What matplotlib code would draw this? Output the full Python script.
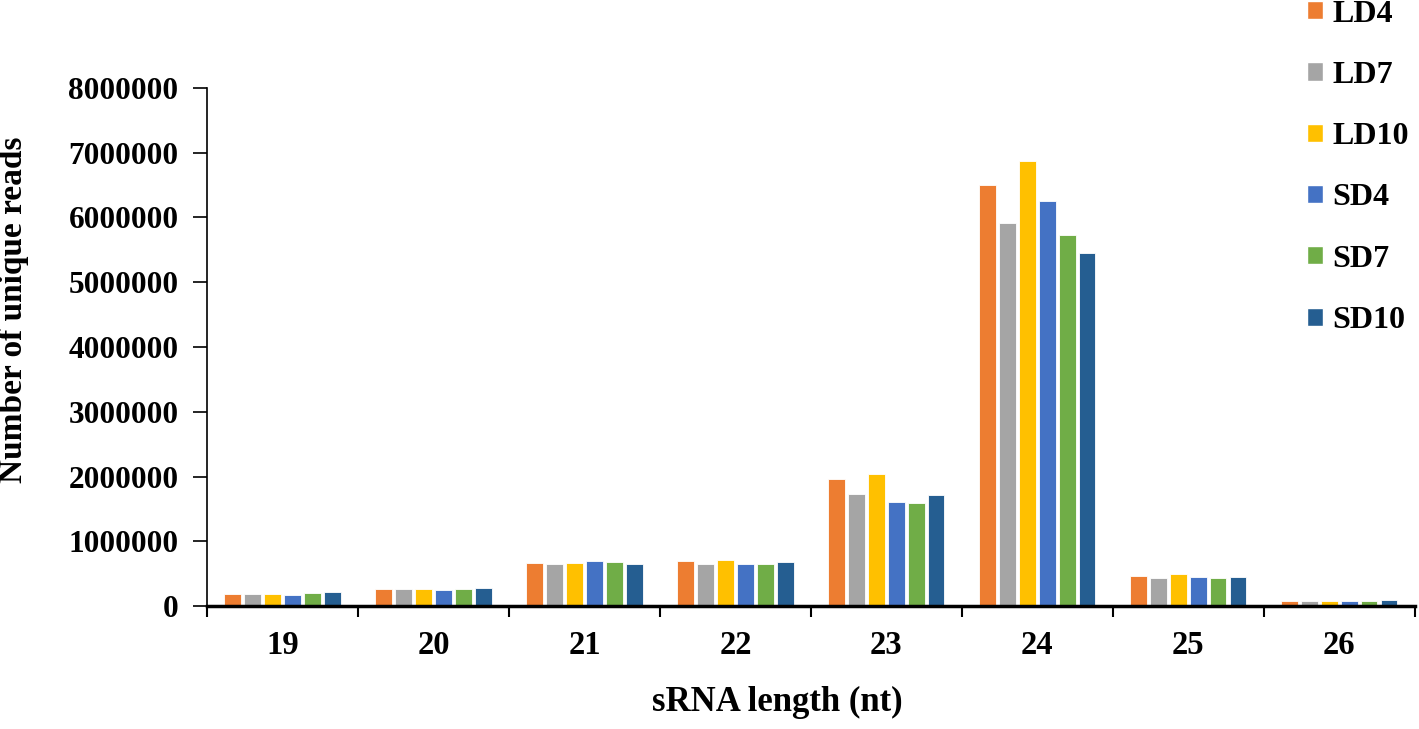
import numpy as np
import matplotlib.pyplot as plt
from matplotlib.patches import Patch

# sRNA lengths and read counts per sample
lengths = [19, 20, 21, 22, 23, 24, 25, 26]
samples = ['LD4', 'LD7', 'LD10', 'SD4', 'SD7', 'SD10']
colors = ['#ED7D31', '#A5A5A5', '#FFC000', '#4472C4', '#70AD47', '#255E91']

ld4 = [190000, 265000, 665000, 690000, 1960000, 6500000, 460000, 85000]
ld7 = [190000, 265000, 645000, 645000, 1735000, 5915000, 430000, 85000]
ld10 = [185000, 265000, 665000, 710000, 2045000, 6870000, 500000, 85000]
sd4 = [175000, 248000, 695000, 645000, 1600000, 6260000, 445000, 85000]
sd7 = [200000, 265000, 680000, 650000, 1590000, 5730000, 425000, 85000]
sd10 = [210000, 273000, 645000, 680000, 1715000, 5455000, 455000, 100000]
series = [ld4, ld7, ld10, sd4, sd7, sd10]

plt.rcParams['font.family'] = ['Liberation Serif', 'DejaVu Serif']
plt.rcParams['font.weight'] = 'bold'

fig = plt.figure(figsize=(14.19, 7.29), dpi=100)
ax = fig.add_axes([0.1459, 0.1687, 0.8511, 0.7106])

x = np.arange(len(lengths))
slot = 0.132
for i, (vals, c) in enumerate(zip(series, colors)):
    ax.bar(x + (i - 2.5) * slot, vals, width=0.11, color=c,
           edgecolor='white', linewidth=0.6)

ax.set_xlim(-0.5, len(lengths) - 0.5)
ax.set_ylim(0, 8000000)
ax.set_yticks(np.arange(0, 8000001, 1000000))
ax.set_yticklabels([str(v) for v in range(0, 8000001, 1000000)], fontsize=22.5, fontweight='bold')

# boundaries as major ticks, category names on minor ticks
ax.set_xticks(np.arange(-0.5, len(lengths), 1))
ax.set_xticklabels([])
ax.set_xticks(x, minor=True)
ax.set_xticklabels([str(l) for l in lengths], minor=True, fontsize=23.5, fontweight='bold')
ax.tick_params(axis='x', which='major', length=8, width=1.5, direction='out')
ax.tick_params(axis='x', which='minor', length=0, pad=17)
ax.tick_params(axis='y', length=10, width=1.2, pad=10.5)

for s in ['top', 'right']:
    ax.spines[s].set_visible(False)
ax.spines['bottom'].set_linewidth(2.5)
ax.spines['left'].set_linewidth(1.2)

ax.set_xlabel('sRNA length (nt)', fontsize=25, fontweight='bold')
ax.xaxis.set_label_coords(0.472, -0.155)
ax.set_ylabel('Number of unique reads', fontsize=24, fontweight='bold')
ax.yaxis.set_label_coords(-0.147, 0.571)

handles = [Patch(facecolor=c, edgecolor='white') for c in colors]
fig.legend(handles, samples, loc='upper left', bbox_to_anchor=(0.921, 1.0005),
           frameon=False, prop={'weight': 'bold', 'size': 23},
           borderpad=0, borderaxespad=0,
           handlelength=0.5, handleheight=0.5, handletextpad=0.3, labelspacing=1.01)

fig.savefig('out.png', dpi=100)
